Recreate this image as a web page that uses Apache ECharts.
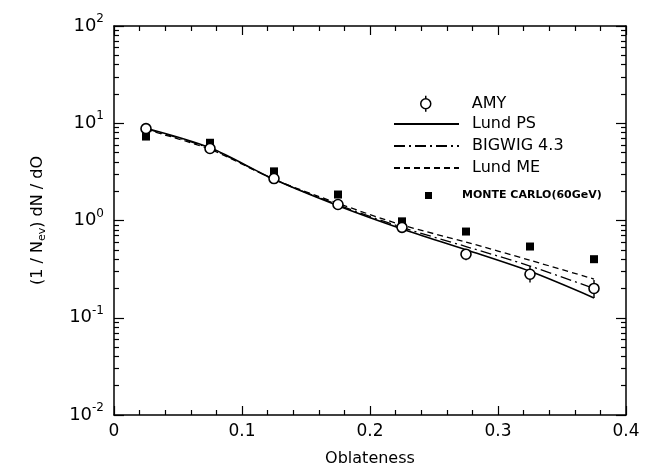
<!DOCTYPE html>
<html>
<head>
<meta charset="utf-8">
<script src="https://cdn.jsdelivr.net/npm/echarts@6/dist/echarts.min.js"></script>
<style>html,body{margin:0;padding:0;background:#fff}#c{width:648px;height:472px}</style>
</head>
<body>
<div id="c"></div>
<script>
// ---- data ----
var oblateness = [0.025, 0.075, 0.125, 0.175, 0.225, 0.275, 0.325, 0.375];
var amy        = [8.8, 5.5, 2.7, 1.46, 0.85, 0.45, 0.28, 0.20];
var amyErrLow  = [8.5, 5.3, 2.6, 1.40, 0.80, 0.39, 0.23, 0.16];
var amyErrHigh = [9.1, 5.7, 2.8, 1.52, 0.90, 0.50, 0.34, 0.245];
var lundPS     = [8.9, 5.6, 2.65, 1.42, 0.82, 0.50, 0.30, 0.16];
var bigwig     = [8.8, 5.5, 2.65, 1.45, 0.85, 0.54, 0.34, 0.20];
var lundME     = [8.6, 5.4, 2.65, 1.50, 0.90, 0.60, 0.39, 0.25];
var monteCarlo = [7.3, 6.3, 3.2, 1.85, 0.98, 0.77, 0.54, 0.40];
var xTicks = [0, 0.1, 0.2, 0.3, 0.4];
var yMajor = [0.01, 0.1, 1, 10, 100];
var yMinor = [];
[0.01, 0.1, 1, 10].forEach(function (d) { for (var k = 2; k <= 9; k++) yMinor.push(+(d * k).toPrecision(3)); });

var FONT = 'DejaVu Sans';
function pairs(ys) { return oblateness.map(function (x, i) { return [x, ys[i]]; }); }
var errData = oblateness.map(function (x, i) { return [x, amyErrLow[i], amyErrHigh[i]]; });

function logAxis(extra) {
  var base = {
    type: 'log', logBase: 10, min: 0.01, max: 100, gridIndex: 0,
    splitLine: { show: false },
    axisLine: { show: true, lineStyle: { color: '#000', width: 1.5 } },
    axisTick: { show: true, inside: true, length: 10, lineStyle: { color: '#000', width: 1.2 } },
    axisLabel: { show: false }
  };
  for (var k in extra) base[k] = extra[k];
  return base;
}

var lineLegendBase = { orient: 'vertical', padding: 0, itemWidth: 65, itemHeight: 10, selectedMode: false,
  itemStyle: { opacity: 0 },
  textStyle: { fontFamily: FONT, fontSize: 16, color: '#000', padding: [0, 0, 0, 8] } };
function mk(extra) { var b = {}; var k; for (k in lineLegendBase) b[k] = lineLegendBase[k]; for (k in extra) b[k] = extra[k]; return b; }

var chart = echarts.init(document.getElementById('c'), null, { renderer: 'canvas' });
var option = {
  backgroundColor: '#fff',
  animation: false,
  grid: { left: 114, right: 22, top: 26, bottom: 57 },
  xAxis: [{
    type: 'value', min: 0, max: 0.4, interval: 0.1, position: 'bottom',
    name: 'Oblateness', nameLocation: 'middle', nameGap: 36,
    nameTextStyle: { fontFamily: FONT, fontSize: 16, color: '#000' },
    splitLine: { show: false },
    axisLine: { lineStyle: { color: '#000', width: 1.5 } },
    axisTick: { inside: true, length: 9, lineStyle: { color: '#000', width: 1.2 } },
    minorTick: { show: true, splitNumber: 5, length: 5, lineStyle: { color: '#000', width: 1.2 } },
    axisLabel: { fontFamily: FONT, fontSize: 17, color: '#000', margin: 8,
      formatter: function (v) { return v === 0 ? '0' : String(+v.toFixed(1)); } }
  }, {
    type: 'value', min: 0, max: 0.4, interval: 0.1, position: 'top',
    splitLine: { show: false },
    axisLine: { lineStyle: { color: '#000', width: 1.5 } },
    axisTick: { inside: true, length: 9, lineStyle: { color: '#000', width: 1.2 } },
    minorTick: { show: true, splitNumber: 5, length: 5, lineStyle: { color: '#000', width: 1.2 } },
    axisLabel: { show: false }
  }],
  yAxis: [
    logAxis({
      position: 'left',
      name: '(1 / N{sub|ev}) dN / dO', nameLocation: 'middle', nameGap: 66, nameRotate: 90,
      nameTextStyle: { fontFamily: FONT, fontSize: 16, color: '#000',
        rich: { sub: { fontFamily: FONT, fontSize: 11, color: '#000', padding: [9, 0, 0, 0] } } },
      axisLabel: { show: true, margin: 10, fontFamily: FONT, fontSize: 18, color: '#000',
        formatter: function (v) { var e = Math.round(Math.log10(v)); return '10{sup|' + e + '}'; },
        rich: { sup: { fontFamily: FONT, fontSize: 12, color: '#000', padding: [0, 0, 14, 0] } } }
    }),
    logAxis({ position: 'left', axisLine: { show: false },
      axisTick: { show: true, inside: true, length: 5, customValues: yMinor, lineStyle: { color: '#000', width: 1.2 } } }),
    logAxis({ position: 'right' }),
    logAxis({ position: 'right', axisLine: { show: false },
      axisTick: { show: true, inside: true, length: 5, customValues: yMinor, lineStyle: { color: '#000', width: 1.2 } } })
  ],
  legend: [
    { data: [{ name: 'AMY', icon: 'path://M5,0 L5,3 M5,13 L5,16 M5,3 A5,5 0 1 1 5,13 A5,5 0 1 1 5,3 Z' }],
      orient: 'vertical', padding: 0, left: 420, top: 95, itemWidth: 10, itemHeight: 16, selectedMode: false,
      itemStyle: { color: '#fff', borderColor: '#000', borderWidth: 1.5, opacity: 1 },
      textStyle: { fontFamily: FONT, fontSize: 16, color: '#000', padding: [0, 0, 0, 36] } },
    mk({ data: ['Lund PS'], left: 393, top: 116 }),
    mk({ data: ['BIGWIG 4.3'], left: 393, top: 138 }),
    mk({ data: ['Lund ME'], left: 393, top: 160 }),
    { data: ['MONTE CARLO(60GeV)'], orient: 'vertical', padding: 0, left: 425, top: 190,
      itemWidth: 7, itemHeight: 7, selectedMode: false, itemStyle: { opacity: 1 },
      textStyle: { fontFamily: FONT, fontSize: 11, fontWeight: 'bold', color: '#000', padding: [0, 0, 0, 25] } }
  ],
  series: [
    { name: 'Lund PS', type: 'line', data: pairs(lundPS), smooth: 0.3, symbol: 'none', z: 3,
      lineStyle: { color: '#000', width: 1.6, type: 'solid' }, itemStyle: { color: '#000' } },
    { name: 'BIGWIG 4.3', type: 'line', data: pairs(bigwig), smooth: 0.3, symbol: 'none', z: 3,
      lineStyle: { color: '#000', width: 1.3, type: [11, 4, 2, 4] }, itemStyle: { color: '#000' } },
    { name: 'Lund ME', type: 'line', data: pairs(lundME), smooth: 0.3, symbol: 'none', z: 3,
      lineStyle: { color: '#000', width: 1.3, type: [6, 4] }, itemStyle: { color: '#000' } },
    { name: 'AMY-err', type: 'custom', data: errData, z: 4,
      renderItem: function (params, api) {
        var x = api.value(0);
        var p1 = api.coord([x, api.value(1)]);
        var p2 = api.coord([x, api.value(2)]);
        return { type: 'line', shape: { x1: p1[0], y1: p1[1], x2: p2[0], y2: p2[1] },
          style: { stroke: '#000', lineWidth: 1.4 } };
      } },
    { name: 'MONTE CARLO(60GeV)', type: 'scatter', data: pairs(monteCarlo), symbol: 'rect', symbolSize: 8, z: 5,
      itemStyle: { color: '#000', opacity: 1 } },
    { name: 'AMY', type: 'scatter', data: pairs(amy), symbol: 'circle', symbolSize: 10, z: 6,
      itemStyle: { color: '#fff', borderColor: '#000', borderWidth: 1.6, opacity: 1 } }
  ]
};
chart.setOption(option);
</script>
</body>
</html>
